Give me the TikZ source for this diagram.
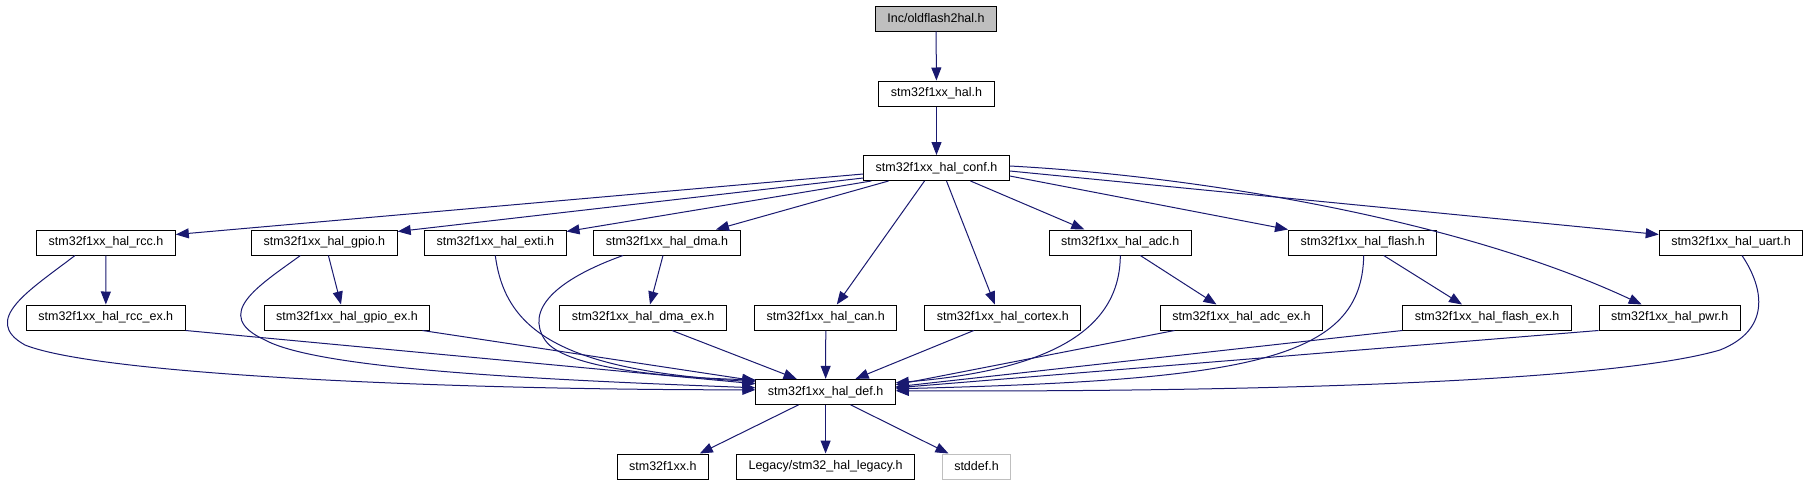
\documentclass[tikz,border=0pt]{standalone}
\usepackage{fontspec}
\setmainfont{Liberation Sans}
\usetikzlibrary{arrows.meta}
\definecolor{edgeblue}{HTML}{191970}
\tikzset{hdr/.style={draw=black,fill=white,line width=1pt,minimum height=25pt,inner xsep=12pt,inner ysep=0pt,font=\fontsize{12.5}{14}\selectfont},cur/.style={hdr,fill=black!25},ext/.style={hdr,draw=black!25},inc/.style={-{Triangle[length=13pt,width=10pt]},draw=edgeblue,line width=1pt}}
\begin{document}
\begin{tikzpicture}[x=1pt,y=-1pt]
\useasboundingbox[fill=white] (0,0) rectangle (1810,485);
\node[cur] (old) at (936,18.5) {Inc/oldflash2hal.h};
\node[hdr] (hal) at (936.5,93.5) {stm32f1xx\_hal.h};
\node[hdr] (conf) at (936.5,168) {stm32f1xx\_hal\_conf.h};
% modules included by the config header
\node[hdr] (rcc) at (106,242.5) {stm32f1xx\_hal\_rcc.h};
\node[hdr] (gpio) at (324.4,242.5) {stm32f1xx\_hal\_gpio.h};
\node[hdr] (exti) at (495.3,242.5) {stm32f1xx\_hal\_exti.h};
\node[hdr] (dma) at (667,242.5) {stm32f1xx\_hal\_dma.h};
\node[hdr] (adc) at (1120.3,242.5) {stm32f1xx\_hal\_adc.h};
\node[hdr] (flash) at (1362.7,242.5) {stm32f1xx\_hal\_flash.h};
\node[hdr] (uart) at (1731,242.5) {stm32f1xx\_hal\_uart.h};
\node[hdr] (rccex) at (105.8,317.5) {stm32f1xx\_hal\_rcc\_ex.h};
\node[hdr] (gpioex) at (347,317.5) {stm32f1xx\_hal\_gpio\_ex.h};
\node[hdr] (dmaex) at (643,317.5) {stm32f1xx\_hal\_dma\_ex.h};
\node[hdr] (can) at (825.8,317.5) {stm32f1xx\_hal\_can.h};
\node[hdr] (cortex) at (1002.8,317.5) {stm32f1xx\_hal\_cortex.h};
\node[hdr] (adcex) at (1241.5,317.5) {stm32f1xx\_hal\_adc\_ex.h};
\node[hdr] (flashex) at (1487,317.5) {stm32f1xx\_hal\_flash\_ex.h};
\node[hdr] (pwr) at (1669.7,317.5) {stm32f1xx\_hal\_pwr.h};
\node[hdr] (def) at (825.6,391.8) {stm32f1xx\_hal\_def.h};
\node[hdr] (dev) at (662.8,466.5) {stm32f1xx.h};
\node[hdr] (legacy) at (825.6,466.5) {Legacy/stm32\_hal\_legacy.h};
\node[ext] (stddef) at (976.5,466.5) {stddef.h};
% top chain
\draw[inc] (old)--(hal); \draw[inc] (hal)--(conf);
% conf fan-out
\draw[inc] ([yshift=-6pt]conf.west)--([yshift=8pt]rcc.east);
\draw[inc] ([yshift=-10pt]conf.west)--([yshift=-2pt]gpio.north east);
\draw[inc] ([xshift=8pt]conf.south west)--([yshift=-2pt]exti.north east);
\draw[inc] ([xshift=-48pt]conf.south)--([xshift=49pt]dma.north);
\draw[inc] ([xshift=-12pt]conf.south)--([xshift=11pt]can.north);
\draw[inc] ([xshift=10pt]conf.south)--([xshift=-8pt]cortex.north);
\draw[inc] ([xshift=34pt]conf.south)--([xshift=-36pt]adc.north);
\draw[inc] ([yshift=-8pt]conf.east)--(flash.north west);
\draw[inc] ([yshift=2pt]conf.east) .. controls (1180,175) and (1450,215) .. ([xshift=-28pt]pwr.north);
\draw[inc] ([yshift=-3pt]conf.east)--([yshift=8pt]uart.west);
% second row to ex headers
\draw[inc] (rcc)--(rccex);
\draw[inc] ([xshift=4pt]gpio.south)--([xshift=-6pt]gpioex.north);
\draw[inc] ([xshift=-4pt]dma.south)--([xshift=7pt]dmaex.north);
\draw[inc] ([xshift=20pt]adc.south)--([xshift=-25pt]adcex.north);
\draw[inc] ([xshift=21pt]flash.south)--([xshift=-25pt]flashex.north);
% everything ends in hal_def
\draw[inc] ([xshift=-31pt]rcc.south) .. controls (30,290) and (-20,320) .. (25,345) .. controls (100,375) and (450,390) .. ([yshift=2pt]def.west);
\draw[inc] ([xshift=-24pt]gpio.south) .. controls (260,285) and (210,315) .. (265,340) .. controls (320,370) and (550,380) .. ([yshift=4pt]def.west);
\draw[inc] (exti.south) .. controls (505,330) and (560,370) .. ([yshift=10pt]def.west);
\draw[inc] ([xshift=-44pt]dma.south) .. controls (555,280) and (525,310) .. (545,340) .. controls (565,370) and (680,378) .. ([yshift=12pt]def.west);
\draw[inc] (rccex.south east)--([yshift=8pt]def.west);
\draw[inc] ([xshift=-8pt]gpioex.south east)--([yshift=11pt]def.west);
\draw[inc] ([xshift=29pt]dmaex.south)--([xshift=-29pt]def.north);
\draw[inc] (can)--(def);
\draw[inc] ([xshift=-29pt]cortex.south)--([xshift=30pt]def.north);
\draw[inc] (adc.south) .. controls (1120,330) and (1050,370) .. ([yshift=9pt]def.east);
\draw[inc] ([xshift=-67pt]adcex.south)--([yshift=7pt]def.east);
\draw[inc] ([xshift=1pt]flash.south) .. controls (1362,360) and (1250,380) .. ([yshift=3pt]def.east);
\draw[inc] (flashex.south west)--([yshift=5pt]def.east);
\draw[inc] (pwr.south west)--([yshift=4pt]def.east);
\draw[inc] ([xshift=11pt]uart.south) .. controls (1765,290) and (1770,330) .. (1720,350) .. controls (1600,385) and (1200,392) .. ([yshift=1pt]def.east);
% hal_def includes
\draw[inc] ([xshift=-27pt]def.south)--([xshift=37pt]dev.north);
\draw[inc] (def)--(legacy);
\draw[inc] ([xshift=25pt]def.south)--([xshift=-28pt]stddef.north);
\end{tikzpicture}
\end{document}
